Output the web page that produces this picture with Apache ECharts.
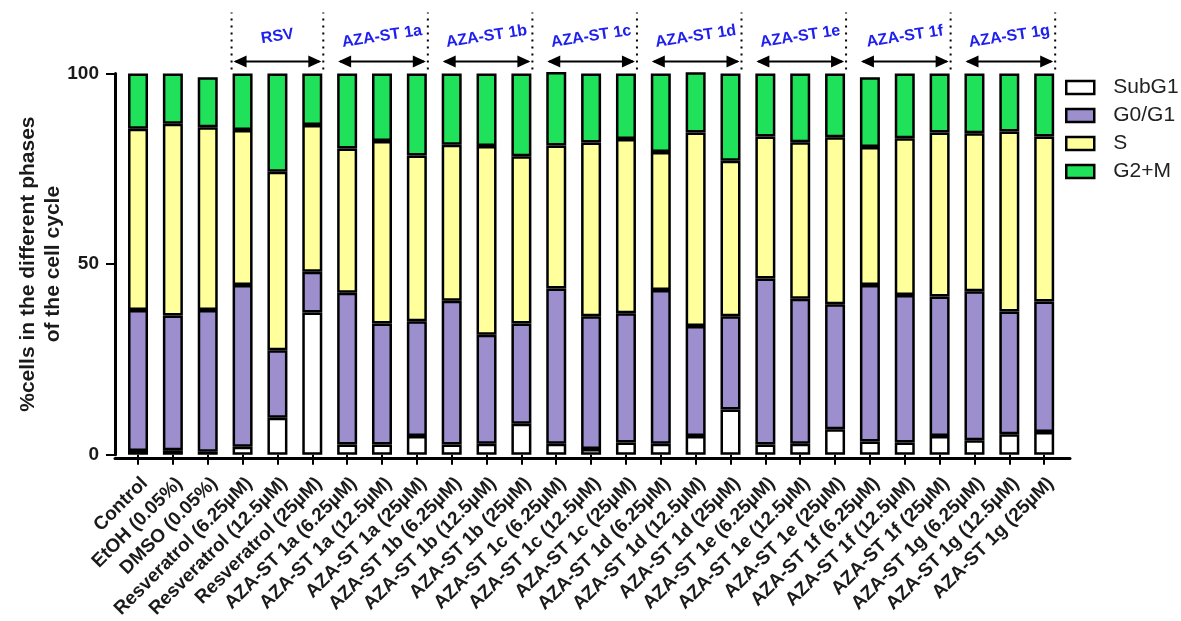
<!DOCTYPE html>
<html>
<head>
<meta charset="utf-8">
<script src="https://cdn.jsdelivr.net/npm/echarts@6/dist/echarts.min.js"></script>
<style>html,body{margin:0;padding:0;background:#fff;}#c{width:1181px;height:621px;}</style>
</head>
<body>
<div id="c"></div>
<script>
const categories = [
  'Control', 'EtOH (0.05%)', 'DMSO (0.05%)',
  'Resveratrol (6.25µM)', 'Resveratrol (12.5µM)', 'Resveratrol (25µM)',
  'AZA-ST 1a (6.25µM)', 'AZA-ST 1a (12.5µM)', 'AZA-ST 1a (25µM)',
  'AZA-ST 1b (6.25µM)', 'AZA-ST 1b (12.5µM)', 'AZA-ST 1b (25µM)',
  'AZA-ST 1c (6.25µM)', 'AZA-ST 1c (12.5µM)', 'AZA-ST 1c (25µM)',
  'AZA-ST 1d (6.25µM)', 'AZA-ST 1d (12.5µM)', 'AZA-ST 1d (25µM)',
  'AZA-ST 1e (6.25µM)', 'AZA-ST 1e (12.5µM)', 'AZA-ST 1e (25µM)',
  'AZA-ST 1f (6.25µM)', 'AZA-ST 1f (12.5µM)', 'AZA-ST 1f (25µM)',
  'AZA-ST 1g (6.25µM)', 'AZA-ST 1g (12.5µM)', 'AZA-ST 1g (25µM)'
];
const subG1 = [1.0, 1.2, 0.8, 2.1, 9.7, 37.3, 2.7, 2.7, 4.9, 2.7, 2.9, 8.1, 2.9, 1.5, 3.2, 2.9, 4.9, 11.9, 2.7, 2.9, 6.7, 3.5, 3.2, 4.9, 3.8, 5.4, 6.0];
const g0g1  = [37.0, 35.3, 37.2, 42.4, 17.7, 10.7, 39.8, 31.7, 30.1, 37.7, 28.6, 26.3, 40.7, 34.8, 33.9, 40.3, 28.9, 24.4, 43.5, 38.0, 32.8, 41.0, 38.7, 36.6, 39.1, 32.2, 34.2];
const sPhase = [47.5, 50.3, 47.9, 40.7, 46.8, 38.5, 37.8, 47.9, 43.5, 40.9, 49.5, 43.9, 37.5, 45.6, 45.7, 36.2, 50.7, 40.8, 37.3, 41.1, 43.8, 36.2, 41.1, 43.0, 41.4, 47.2, 43.3];
const g2m   = [14.5, 13.2, 13.1, 14.8, 25.8, 13.5, 19.7, 17.7, 21.5, 18.7, 19.0, 21.7, 19.3, 18.1, 17.2, 20.6, 15.8, 22.9, 16.5, 18.0, 16.7, 18.3, 17.0, 15.5, 15.7, 15.2, 16.5];
const seriesNames = ['SubG1', 'G0/G1', 'S', 'G2+M'];
const yTicks = [0, 50, 100];
const groupNames = ['RSV', 'AZA-ST 1a', 'AZA-ST 1b', 'AZA-ST 1c', 'AZA-ST 1d', 'AZA-ST 1e', 'AZA-ST 1f', 'AZA-ST 1g'];
const groupStart = [3, 6, 9, 12, 15, 18, 21, 24];
const groupEnd   = [5, 8, 11, 14, 17, 20, 23, 26];

const colors = ['#FFFFFF', '#9D8ECE', '#FFFF9C', '#20E25A'];
const FONT = 'Liberation Sans, Arial, Helvetica, sans-serif';
const chart = echarts.init(document.getElementById('c'));

const gridTop = 73.5, gridBottom = 163;
const barSeries = [subG1, g0g1, sPhase, g2m].map((d, i) => ({
  name: seriesNames[i], type: 'bar', stack: 'total', xAxisIndex: 0, yAxisIndex: 0,
  data: d, barWidth: 20, clip: false,
  itemStyle: { color: colors[i], borderColor: '#000', borderWidth: 2.5 },
  emphasis: { disabled: true }
}));

const HALF = 11;
const annot = {
  type: 'custom', xAxisIndex: 0, yAxisIndex: 0, clip: false, silent: true,
  encode: { x: [0, 1], y: 2 },
  data: groupStart.map((s, i) => [s, groupEnd[i], 100, i]),
  renderItem: function (params, api) {
    const s = api.value(0), e = api.value(1), gi = api.value(3);
    const p1 = api.coord([s, 100]);
    const p2 = api.coord([e, 100]);
    const xl = p1[0] - HALF, xr = p2[0] + HALF, top = p1[1];
    const ay = top - 12;
    const dotStyle = { stroke: '#000', lineWidth: 2, lineDash: [2, 5] };
    const children = [];
    if (gi === 0) {
      children.push({ type: 'line', shape: { x1: xl, y1: top - 4, x2: xl, y2: top - 61 }, style: dotStyle });
    }
    children.push({ type: 'line', shape: { x1: xr, y1: top - 4, x2: xr, y2: top - 61 }, style: dotStyle });
    children.push({ type: 'line', shape: { x1: xl + 4, y1: ay, x2: xr - 4, y2: ay }, style: { stroke: '#000', lineWidth: 2 } });
    children.push({ type: 'polygon', shape: { points: [[xl + 2, ay], [xl + 15, ay - 6], [xl + 15, ay + 6]] }, style: { fill: '#000' } });
    children.push({ type: 'polygon', shape: { points: [[xr - 2, ay], [xr - 15, ay - 6], [xr - 15, ay + 6]] }, style: { fill: '#000' } });
    children.push({
      type: 'text', x: (xl + xr) / 2, y: top - 37, rotation: 0.15,
      style: { text: groupNames[gi], fill: '#2020EE', font: 'bold 16px ' + FONT, align: 'center', verticalAlign: 'middle' }
    });
    return { type: 'group', children: children };
  }
};

chart.setOption({
  animation: false,
  backgroundColor: '#fff',
  grid: [
    { left: 120.6, width: 941, top: gridTop, bottom: gridBottom },
    { left: 115, right: 111, top: gridTop, bottom: gridBottom }
  ],
  legend: {
    data: seriesNames, orient: 'vertical', left: 1065, top: 77, padding: 0,
    itemWidth: 28, itemHeight: 13, itemGap: 7, icon: 'rect',
    itemStyle: { borderColor: '#000', borderWidth: 2.5 },
    textStyle: { fontFamily: FONT, fontSize: 21, color: '#222', padding: [0, 0, 0, 14] },
    selectedMode: false
  },
  xAxis: [
    {
      type: 'category', gridIndex: 0, data: categories,
      axisLine: { show: false },
      axisTick: { show: true, alignWithLabel: true, length: 10, lineStyle: { color: '#000', width: 2 } },
      axisLabel: { rotate: 45, interval: 0, margin: 19, verticalAlign: 'top',
        fontFamily: FONT, fontWeight: 'bold', fontSize: 19, color: '#1a1a1a' }
    },
    {
      type: 'value', gridIndex: 1, min: 0, max: 1,
      axisLine: { show: true, onZero: false, lineStyle: { color: '#000', width: 3 } },
      axisTick: { show: false }, axisLabel: { show: false }, splitLine: { show: false }
    }
  ],
  yAxis: [
    {
      type: 'value', gridIndex: 0, min: 0, max: 100, interval: 50, offset: 5.6,
      axisLine: { show: true, onZero: false, lineStyle: { color: '#000', width: 3 } },
      axisTick: { show: true, length: 9, lineStyle: { color: '#000', width: 2 } },
      axisLabel: { margin: 16, fontFamily: FONT, fontWeight: 'bold', fontSize: 19, color: '#1a1a1a',
        formatter: v => yTicks.indexOf(v) >= 0 ? String(v) : '' },
      splitLine: { show: false },
      name: '%cells in the different phases\nof the cell cycle',
      nameLocation: 'middle', nameGap: 49, nameRotate: 90, nameMoveOverlap: false,
      nameTextStyle: { fontFamily: FONT, fontWeight: 'bold', fontSize: 21, color: '#1a1a1a', lineHeight: 25 }
    },
    { type: 'value', gridIndex: 1, min: 0, max: 100, show: false, splitLine: { show: false } }
  ],
  series: barSeries.concat([annot])
});
</script>
</body>
</html>
